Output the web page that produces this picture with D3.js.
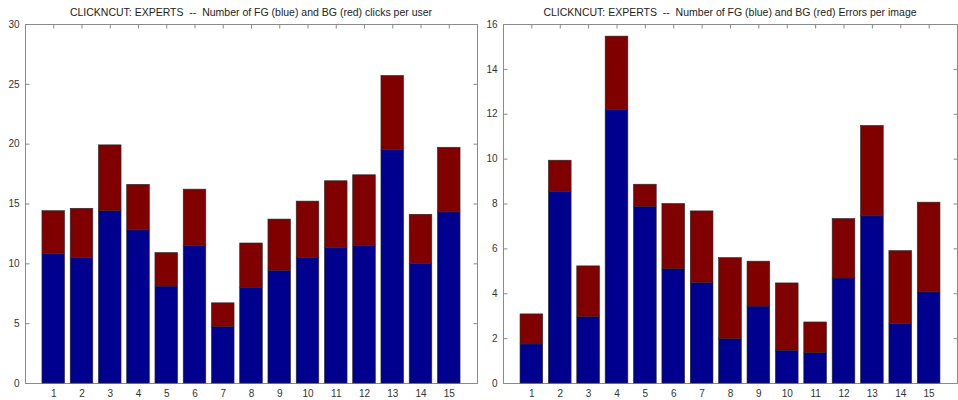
<!DOCTYPE html>
<html>
<head>
<meta charset="utf-8">
<script src="https://cdn.jsdelivr.net/npm/d3@7"></script>
<style>
  body { margin: 0; background: #fff; }
  svg { display: block; font-family: "Liberation Sans", Arial, sans-serif; }
  .title { white-space: pre; }
</style>
</head>
<body>
<svg width="958" height="400"></svg>
<script>
const width = 958;
const height = 400;

// categories (users / images)
const categories = [1, 2, 3, 4, 5, 6, 7, 8, 9, 10, 11, 12, 13, 14, 15];

// left panel: clicks per user
const clicksFG = [10.8, 10.5, 14.4, 12.8, 8.1, 11.5, 4.7, 8.0, 9.4, 10.5, 11.3, 11.5, 19.5, 10.0, 14.3];
const clicksBG = [3.6, 4.1, 5.5, 3.8, 2.8, 4.7, 2.0, 3.7, 4.3, 4.7, 5.6, 5.9, 6.2, 4.1, 5.4];
const clicksTicks = [0, 5, 10, 15, 20, 25, 30];

// right panel: errors per image
const errorsFG = [1.74, 8.54, 2.96, 12.19, 7.87, 5.10, 4.48, 1.98, 3.43, 1.46, 1.35, 4.68, 7.45, 2.65, 4.06];
const errorsBG = [1.34, 1.39, 2.26, 3.27, 0.99, 2.90, 3.19, 3.61, 2.00, 3.00, 1.37, 2.65, 4.03, 3.25, 4.00];
const errorsTicks = [0, 2, 4, 6, 8, 10, 12, 14, 16];

const colors = { fg: "#00008f", bg: "#800000" };
const svg = d3.select("svg");

const panel = ({ left, right, title, fg, bg, ymax, ticks }) => {
    const top = 24;
    const bottom = 383;
    const x = d3.scaleLinear().domain([0, 16]).range([left, right]);
    const y = d3.scaleLinear().domain([0, ymax]).range([bottom, top]);
    const g = svg.append("g");

    const rows = categories.map((c, i) => ({ cat: c, fg: fg[i], bg: bg[i] }));
    const series = d3.stack().keys(["fg", "bg"])(rows);

    // frame
    g.append("rect")
        .attr("x", left + 0.5)
        .attr("y", top + 0.5)
        .attr("width", right - left)
        .attr("height", bottom - top)
        .attr("fill", "none")
        .attr("stroke", "#8a8a8a");

    // inward ticks on all four sides
    const tickStyle = (a) =>
        a.call((s) => s.select(".domain").remove())
         .call((s) => s.selectAll(".tick line").attr("stroke", "#8a8a8a"))
         .call((s) => s.selectAll(".tick text").attr("fill", "#333").style("font-size", "10px"));

    g.append("g")
        .attr("transform", `translate(${left + 0.5},0)`)
        .call(d3.axisLeft(y).tickValues(ticks).tickFormat(d3.format("d")).tickSize(-4).tickPadding(6))
        .call(tickStyle);
    g.append("g")
        .attr("transform", `translate(${right + 0.5},0)`)
        .call(d3.axisRight(y).tickValues(ticks).tickFormat("").tickSize(-4))
        .call(tickStyle);
    g.append("g")
        .attr("transform", `translate(0,${top + 0.5})`)
        .call(d3.axisTop(x).tickValues(categories).tickFormat("").tickSize(-4))
        .call(tickStyle);

    // bars
    const bw = x(0.8) - x(0);
    g.append("g")
        .selectAll("g")
        .data(series)
        .join("g")
        .attr("fill", (d) => colors[d.key])
        .selectAll("rect")
        .data((d) => d)
        .join("rect")
        .attr("x", (d) => x(d.data.cat) - bw / 2)
        .attr("y", (d) => y(d[1]))
        .attr("width", bw)
        .attr("height", (d) => y(d[0]) - y(d[1]))
        .attr("stroke", "#2a2a2a")
        .attr("stroke-width", 0.6);

    g.append("g")
        .attr("transform", `translate(0,${bottom + 0.5})`)
        .call(d3.axisBottom(x).tickValues(categories).tickFormat(d3.format("d")).tickSize(0).tickPadding(6))
        .call(tickStyle);

    g.append("text")
        .attr("class", "title")
        .attr("x", (left + right) / 2)
        .attr("y", 16)
        .attr("text-anchor", "middle")
        .attr("fill", "#222")
        .style("font-size", "10.5px")
        .text(title);
};

panel({
    left: 25, right: 477,
    title: "CLICKNCUT: EXPERTS  --  Number of FG (blue) and BG (red) clicks per user",
    fg: clicksFG, bg: clicksBG, ymax: 30, ticks: clicksTicks,
});

panel({
    left: 503, right: 957,
    title: "CLICKNCUT: EXPERTS  --  Number of FG (blue) and BG (red) Errors per image",
    fg: errorsFG, bg: errorsBG, ymax: 16, ticks: errorsTicks,
});
</script>
</body>
</html>
